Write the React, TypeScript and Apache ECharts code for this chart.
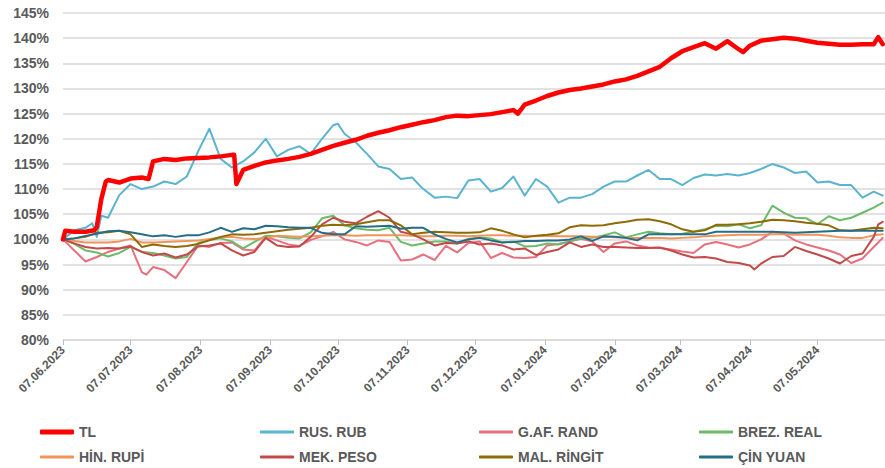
import React, { useEffect, useRef } from 'react';
import * as echarts from 'echarts';

const START_DATE = '2023-06-07';
const AXIS_END_DAY = 365;
const TICK_DATES = [
  '2023-06-07', '2023-07-07', '2023-08-07', '2023-09-07', '2023-10-07', '2023-11-07',
  '2023-12-07', '2024-01-07', '2024-02-07', '2024-03-07', '2024-04-07', '2024-05-07',
];

// days after 07.06.2023 at which values were read
const SAMPLE_DAYS = [
  0, 5, 10, 15, 20, 25, 30, 35, 40, 45,
  50, 55, 60, 65, 70, 75, 80, 85, 90, 95,
  100, 105, 110, 115, 120, 125, 130, 135, 140, 145,
  150, 155, 160, 165, 170, 175, 180, 185, 190, 195,
  200, 205, 210, 215, 220, 225, 230, 235, 240, 245,
  250, 255, 260, 265, 270, 275, 280, 285, 290, 295,
  300, 305, 310, 315, 320, 325, 330, 335, 340, 345,
  350, 355, 360, 364,
];

const TL = [
  100, 101.5, 101.5, 102.5, 111.8, 111.3, 112.1, 112.3, 115.5, 116,
  115.8, 116.1, 116.2, 116.3, 116.5, 116.8, 113.8, 114.6, 115.3, 115.7,
  116, 116.4, 117, 117.8, 118.6, 119.2, 119.8, 120.6, 121.2, 121.7,
  122.3, 122.8, 123.3, 123.7, 124.3, 124.6, 124.5, 124.7, 124.9, 125.3,
  125.7, 126.8, 127.6, 128.5, 129.2, 129.7, 130, 130.4, 130.8, 131.4,
  131.8, 132.5, 133.4, 134.3, 136, 137.4, 138.2, 139, 137.9, 139.4,
  137.8, 138.5, 139.5, 139.8, 140.1, 139.9, 139.5, 139.1, 138.9, 138.7,
  138.7, 138.8, 138.8, 138.8,
];
const TL_EXTRA = [[1, 101.7], [14, 101.8], [17, 108], [19, 111.5], [38, 112], [76, 116.8], [77, 111], [202, 125], [302, 137.2], [362, 140.2]];

const RUB = [
  100, 101.8, 102.3, 100.5, 104.3, 108.8, 111, 110, 110.5, 111.5,
  111, 112.5, 117.5, 122, 116, 114.3, 115.5, 117.3, 120, 116.5,
  117.8, 118.5, 117, 120, 122.7, 121, 119.3, 117, 114.5, 114,
  112, 112.3, 110, 108.3, 108.5, 108.2, 111.7, 112, 109.5, 110.2,
  112.5, 108.7, 112, 110.5, 107.3, 108.3, 108.3, 109, 110.5, 111.5,
  111.5, 112.7, 113.8, 112, 112, 110.8, 112.2, 112.9, 112.7, 113,
  112.7, 113.2, 114, 115, 114.3, 113.2, 113.5, 111.3, 111.5, 110.8,
  110.8, 108.3, 109.5, 108.7,
];
const RUB_EXTRA = [[13, 103.2], [17, 104.7], [122, 123]];

const RAND = [
  100, 97.8, 95.6, 96.5, 97.5, 98.2, 98.8, 93.5, 94.5, 93.9,
  92.3, 95.5, 98.8, 98.5, 99.3, 99.4, 98, 97.8, 100.5, 99.8,
  99, 98.7, 99.9, 100.6, 101.5, 100, 99.5, 98.8, 99.8, 99.5,
  95.8, 96, 97, 95.9, 98.7, 97.4, 99.3, 99.6, 96.3, 97.3,
  96.4, 96.3, 96.5, 98.8, 99.1, 99.6, 100.1, 99.6, 97.5, 99.2,
  99.6, 98.8, 98.4, 98.3, 98, 97.6, 97.3, 99, 99.5, 99,
  98.4, 99, 100, 101.5, 101.2, 99.8, 99, 98.4, 97.8, 97,
  95.3, 96.2, 98.5, 100.3,
];
const RAND_EXTRA = [[37, 93]];

const REAL = [
  100, 99.1, 97.8, 97.4, 96.6, 97.3, 98.5, 97.5, 97.3, 96.8,
  96.2, 96.5, 99.3, 99.9, 100.2, 99.6, 98.2, 99.5, 100.7, 100.6,
  100.3, 100.2, 101.4, 104.2, 104.7, 102.8, 102.2, 101.9, 101.8, 102.3,
  99.5, 98.8, 99.2, 99.6, 99.6, 99.2, 100.1, 100.4, 100.2, 99.4,
  99.6, 98.6, 98.7, 99.2, 99, 99.6, 100.2, 100.3, 100.8, 101.4,
  100.4, 101, 101.5, 101.2, 101, 101.1, 101.5, 102, 102.7, 102.6,
  103, 102.2, 102.8, 106.7, 105.3, 104.3, 104.2, 103, 104.6, 103.8,
  104.3, 105.3, 106.3, 107.3,
];

const RUPI = [
  100, 99.7, 99.4, 99.4, 99.4, 99.6, 100.1, 99.4, 99.4, 99.5,
  99.6, 99.7, 99.8, 100.1, 100.4, 100.5, 100.2, 100.1, 100.3, 100.7,
  100.6, 100.5, 100.6, 100.7, 100.8, 100.8, 100.7, 100.8, 100.8, 100.8,
  100.8, 100.7, 100.6, 100.6, 100.7, 100.7, 100.6, 100.7, 100.8, 100.8,
  100.7, 100.7, 100.6, 100.7, 100.6, 100.6, 100.6, 100.5, 100.5, 100.4,
  100.3, 100.3, 100.3, 100.3, 100.2, 100.3, 100.4, 100.6, 100.7, 100.8,
  100.9, 100.9, 100.9, 101, 101, 100.9, 100.9, 100.9, 100.7, 100.4,
  100.3, 100.3, 100.8, 101,
];

const PESO = [
  100, 99.2, 98.5, 98.2, 98.3, 98.2, 98.6, 97.5, 96.8, 97.2,
  96.4, 97, 98.6, 98.8, 99.2, 97.8, 96.8, 97.5, 100.3, 98.8,
  98.5, 98.6, 100.5, 103, 104.3, 103.5, 103.2, 104.5, 105.6, 104.3,
  101.5, 101, 100, 98.8, 99.3, 99.2, 99.6, 99, 99.2, 98.8,
  98, 98.2, 96.9, 97.5, 98, 99.4, 98.5, 99, 98.5, 98.5,
  98.4, 98.3, 98.3, 98.4, 97.8, 97, 96.4, 96.5, 96.2, 95.5,
  95.3, 94.8, 95.2, 96.5, 96.7, 98.5, 97.7, 97, 96.2, 95.2,
  96.7, 97.2, 100.5, 103.5,
];
const PESO_EXTRA = [[307, 94], [362, 103]];

const RINGGIT = [
  100, 100.2, 100.5, 101.3, 101.4, 101.7, 101, 98.5, 99, 98.7,
  98.5, 98.7, 99.1, 99.8, 100.5, 101, 100.9, 101, 101.3, 101.6,
  101.9, 102.1, 102.3, 102.7, 102.9, 102.8, 103, 103.4, 103.8, 103.8,
  102.8, 101, 101.3, 101.5, 101.4, 101.3, 101.3, 101.4, 102.2, 101.7,
  101, 100.4, 100.7, 100.9, 101.2, 102.4, 102.8, 102.7, 102.8, 103.2,
  103.5, 103.9, 104, 103.6, 103, 102, 101.5, 101.8, 102.9, 102.9,
  103, 103.2, 103.5, 103.9, 103.8, 103.6, 103.3, 103.1, 102.8, 101.8,
  101.7, 102, 102.3, 102.2,
];

const YUAN = [
  100, 100.2, 100.7, 101.1, 101.6, 101.7, 101.4, 101, 100.6, 100.8,
  100.5, 100.8, 100.8, 101.4, 102.3, 101.5, 102.2, 102, 102.7, 102.6,
  102.4, 102.3, 102.3, 101.3, 101, 101, 102.6, 102.5, 102.6, 102.7,
  102.1, 102.3, 102.3, 101, 100.1, 99.4, 100, 100.3, 99.8, 99.4,
  99.5, 99.7, 99.7, 99.8, 99.8, 100, 100.6, 99.7, 100.6, 100.5,
  100.3, 99.8, 101, 101, 101, 101, 101, 101, 101.5, 101.5,
  101.5, 101.5, 101.5, 101.5, 101.4, 101.3, 101.4, 101.5, 101.6, 101.7,
  101.7, 101.7, 101.7, 101.7,
];

const SERIES_NAMES = ['TL', 'RUS. RUB', 'G.AF. RAND', 'BREZ. REAL', 'HİN. RUPİ', 'MEK. PESO', 'MAL. RİNGİT', 'ÇİN YUAN'];
const SERIES_VALUES = [TL, RUB, RAND, REAL, RUPI, PESO, RINGGIT, YUAN];
const SERIES_EXTRAS = [TL_EXTRA, RUB_EXTRA, RAND_EXTRA, [], [], PESO_EXTRA, [], []];
const SERIES_COLORS = ['#FF0000', '#5BB4CF', '#E8707E', '#6CBB6A', '#F0945B', '#C24A4A', '#8F6A06', '#266D88'];

const DAY_MS = 86400000;
const toTs = (s: string) => {
  const [y, m, d] = s.split('-').map(Number);
  return Date.UTC(y, m - 1, d);
};
const START_TS = toTs(START_DATE);
const dayOf = (s: string) => Math.round((toTs(s) - START_TS) / DAY_MS);

function buildData(values: number[], extras: number[][]) {
  const pts: number[][] = SAMPLE_DAYS.map((d, i) => [d, values[i]]);
  extras.forEach((e) => pts.push([e[0], e[1]]));
  pts.sort((a, b) => a[0] - b[0]);
  return pts;
}

const pad = (n: number) => (n < 10 ? '0' + n : '' + n);
const fmtDay = (day: number) => {
  const d = new Date(START_TS + Math.round(day) * DAY_MS);
  return pad(d.getUTCDate()) + '.' + pad(d.getUTCMonth() + 1) + '.' + d.getUTCFullYear();
};

const FONT = '"Liberation Sans", Arial, sans-serif';
const GREY = '#595959';

export default function App() {
  const ref = useRef<HTMLDivElement>(null);
  useEffect(() => {
    if (!ref.current) return;
    const chart = echarts.init(ref.current, undefined, { renderer: 'svg' });
    const tickDays = TICK_DATES.map(dayOf);
    const series = SERIES_NAMES.map((name, i) => ({
      name,
      type: 'line',
      data: buildData(SERIES_VALUES[i], SERIES_EXTRAS[i] as number[][]),
      symbol: 'none',
      showSymbol: false,
      smooth: false,
      z: i === 0 ? 5 : 2,
      color: SERIES_COLORS[i],
      lineStyle: { color: SERIES_COLORS[i], width: i === 0 ? 4.5 : 2, cap: 'round', join: 'round' },
      emphasis: { disabled: true },
    }));
    const colX = [40, 260, 479, 699];
    const rowY = [425, 450];
    const legends = SERIES_NAMES.map((name, i) => ({
      data: [name],
      left: colX[i % 4],
      top: rowY[Math.floor(i / 4)],
      padding: 0,
      icon: 'roundRect',
      itemWidth: 34,
      itemHeight: i === 0 ? 5 : 3,
      itemGap: 0,
      selectedMode: false,
      textStyle: { fontFamily: FONT, fontSize: 14, fontWeight: 'bold', color: GREY },
    }));
    chart.setOption({
      animation: false,
      grid: { left: 63, right: 0, top: 13, bottom: 128, containLabel: false },
      xAxis: {
        type: 'value',
        min: 0,
        max: AXIS_END_DAY,
        splitLine: { show: false },
        axisLine: { show: true, onZero: false, lineStyle: { color: '#D9D9D9', width: 1.5 } },
        axisTick: { show: true, customValues: tickDays, length: 5, lineStyle: { color: '#BFBFBF' } },
        axisLabel: {
          customValues: tickDays,
          rotate: 45,
          margin: 8,
          fontFamily: FONT,
          fontSize: 12,
          fontWeight: 'bold',
          color: GREY,
          formatter: (v: number) => fmtDay(v),
          hideOverlap: false,
        },
      },
      yAxis: {
        type: 'value',
        min: 80,
        max: 145,
        interval: 5,
        axisLine: { show: false },
        axisTick: { show: false },
        splitLine: { show: true, lineStyle: { color: '#D9D9D9', width: 1.5 } },
        axisLabel: {
          formatter: '{value}%',
          margin: 14,
          fontFamily: FONT,
          fontSize: 14,
          fontWeight: 'bold',
          color: GREY,
        },
      },
      legend: legends,
      series,
    });
    return () => chart.dispose();
  }, []);
  return (
    <div
      ref={ref}
      style={{ position: 'fixed', left: 0, top: 0, width: 885, height: 468, background: '#ffffff' }}
    />
  );
}
